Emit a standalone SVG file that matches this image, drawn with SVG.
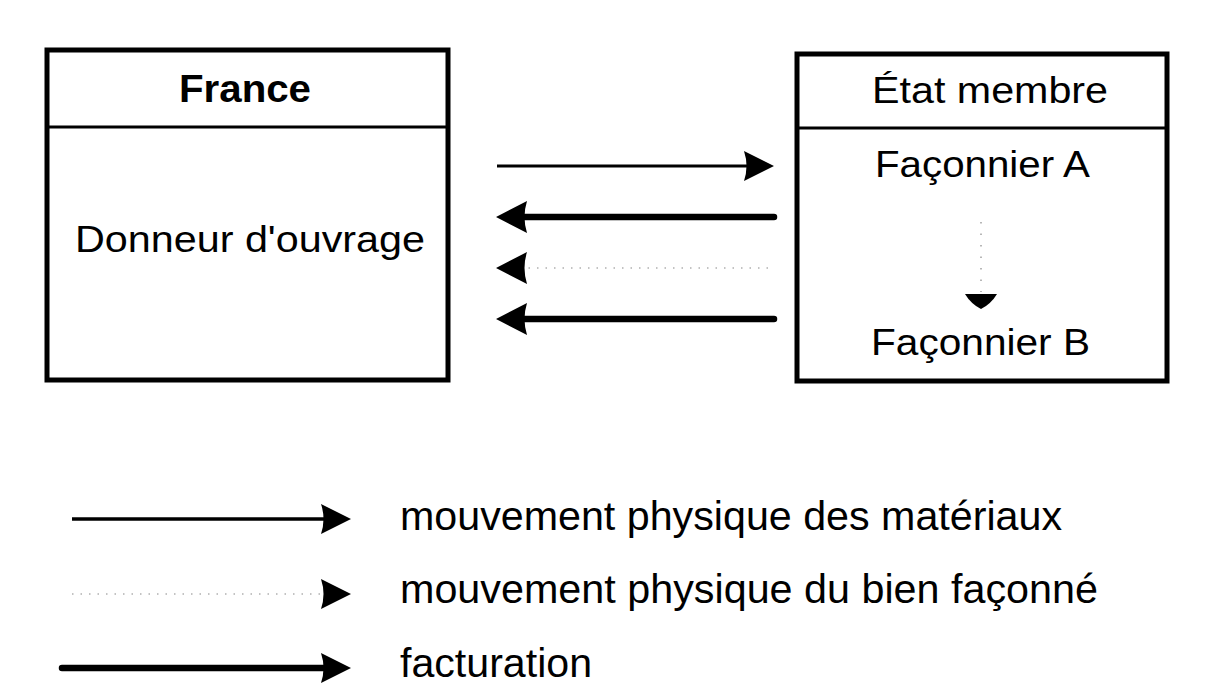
<svg xmlns="http://www.w3.org/2000/svg" width="1232" height="691" viewBox="0 0 1232 691">
<style>
  .box { fill: #fff; stroke: #000; stroke-width: 5; }
  .div { stroke: #000; stroke-width: 3; }
  .t { font-family: "Liberation Sans", Arial, sans-serif; fill: #000; }
  .thin { stroke: #000; stroke-width: 3; fill: none; }
  .thick { stroke: #000; stroke-width: 6.5; fill: none; stroke-linecap: round; }
  .dot { stroke: #888; stroke-width: 1.2; fill: none; stroke-dasharray: 1.5 7; }
  .head { fill: #000; }
</style>
<rect width="1232" height="691" fill="#fff"/>
<g id="node-france">
  <rect class="box" x="47" y="50" width="401" height="330"/>
  <line class="div" x1="47" y1="127" x2="448" y2="127"/>
  <text class="t" x="245" y="102" font-size="38" font-weight="bold" text-anchor="middle" textLength="132" lengthAdjust="spacingAndGlyphs">France</text>
  <text class="t" x="75" y="252" font-size="36" textLength="350" lengthAdjust="spacingAndGlyphs">Donneur d'ouvrage</text>
</g>
<g id="node-etat">
  <rect class="box" x="797" y="54" width="370" height="327"/>
  <line class="div" x1="797" y1="128" x2="1167" y2="128"/>
  <text class="t" x="872" y="103" font-size="36" textLength="236" lengthAdjust="spacingAndGlyphs">État membre</text>
  <text class="t" x="875" y="177" font-size="36" textLength="215" lengthAdjust="spacingAndGlyphs">Façonnier A</text>
  <text class="t" x="871" y="355" font-size="36" textLength="219" lengthAdjust="spacingAndGlyphs">Façonnier B</text>
</g>
<g id="connectors">
  <line class="thin" x1="497" y1="166" x2="750" y2="166"/>
  <path class="head" d="M774,166 L744,151 Q749,166 744,181 Z"/>
  <line class="thick" x1="520" y1="217" x2="774" y2="217"/>
  <path class="head" d="M496,217 L527,201 Q522,217 527,233 Z"/>
  <line class="dot" x1="520" y1="268" x2="774" y2="268"/>
  <path class="head" d="M496,268 L527,252 Q522,268 527,284 Z"/>
  <line class="thick" x1="520" y1="319" x2="774" y2="319"/>
  <path class="head" d="M496,319 L527,303 Q522,319 527,335 Z"/>
  <line class="dot" x1="981" y1="222" x2="981" y2="292" style="stroke-dasharray:1.5 10"/>
  <path class="head" d="M965,294 L997,294 Q991,304 981,309 Q971,304 965,294 Z"/>
</g>
<g id="legend">
  <line class="thin" x1="72" y1="519" x2="330" y2="519" style="stroke-width:3.5"/>
  <path class="head" d="M351,519 L321,504 Q326,519 321,534 Z"/>
  <line class="dot" x1="72" y1="594" x2="330" y2="594"/>
  <path class="head" d="M351,594 L321,579 Q326,594 321,609 Z"/>
  <line class="thick" x1="62" y1="668" x2="330" y2="668"/>
  <path class="head" d="M351,668 L321,653 Q326,668 321,683 Z"/>
  <text class="t" x="400" y="530" font-size="40" textLength="662" lengthAdjust="spacingAndGlyphs">mouvement physique des matériaux</text>
  <text class="t" x="400" y="603" font-size="40" textLength="698" lengthAdjust="spacingAndGlyphs">mouvement physique du bien façonné</text>
  <text class="t" x="400" y="677" font-size="40" textLength="192" lengthAdjust="spacingAndGlyphs">facturation</text>
</g>
</svg>
